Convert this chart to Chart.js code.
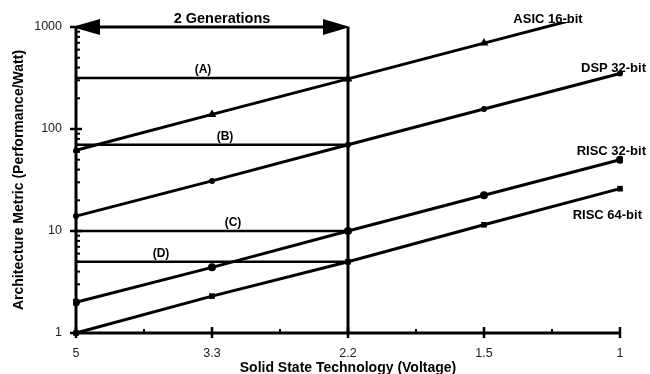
<!DOCTYPE html>
<html>
<head>
<meta charset="utf-8">
<script src="https://cdn.jsdelivr.net/npm/chart.js@4/dist/chart.umd.min.js"></script>
<style>
  html, body { margin: 0; padding: 0; background: #fff; }
  #wrap { width: 650px; height: 374px; position: relative; }
</style>
</head>
<body>
<div id="wrap"><canvas id="c"></canvas></div>
<script>
// Supply voltage generations (x categories)
const voltages = ['5', '3.3', '2.2', '1.5', '1'];

// Performance per watt for each architecture
const asic16 = [62, 139, 310, 695, 1550];
const dsp32  = [14, 31, 70, 157, 350];
const risc32 = [2, 4.4, 10, 22.4, 50];
const risc64 = [1, 2.3, 5, 11.5, 26];

// Reference levels read across to the 2.2 V generation
const levelA = 316;
const levelB = 70;
const levelC = 10;
const levelD = 5;

// Span of the "2 Generations" arrow and its marker line
const genStart = '5';
const genEnd = '2.2';
const yMin = 1;
const yMax = 1000;
const yTicks = [1, 10, 100, 1000];

const FONT = "'Liberation Sans', Arial, Helvetica, sans-serif";

function levelRow(v) {
  return voltages.map(lbl => (voltages.indexOf(lbl) <= voltages.indexOf(genEnd) ? v : null));
}

const seriesStyle = {
  borderColor: '#000',
  backgroundColor: '#000',
  borderWidth: 3,
  pointBorderWidth: 0,
  tension: 0,
  clip: { left: 3, top: 5, right: 3, bottom: 3 }
};

const refStyle = {
  borderColor: '#000',
  borderWidth: 2.5,
  pointRadius: 0,
  tension: 0,
  clip: false
};

// Axis lines, tick marks, arrow and text annotations
const decor = {
  id: 'decor',
  afterDatasetsDraw(chart) {
    const { ctx, chartArea: a, scales: { x, y } } = chart;
    ctx.save();
    ctx.strokeStyle = '#000';
    ctx.fillStyle = '#000';
    ctx.lineCap = 'butt';

    // axes
    ctx.lineWidth = 3;
    ctx.beginPath();
    ctx.moveTo(a.left, y.getPixelForValue(yMax) - 1);
    ctx.lineTo(a.left, a.bottom);
    ctx.lineTo(a.right + 1, a.bottom);
    ctx.stroke();

    // y ticks: majors cross the axis, minors point inward
    ctx.lineWidth = 2.5;
    yTicks.forEach(v => {
      const py = y.getPixelForValue(v);
      ctx.beginPath();
      ctx.moveTo(a.left - 6, py);
      ctx.lineTo(a.left + (v === yMin ? 0 : 6), py);
      ctx.stroke();
    });
    ctx.lineWidth = 2;
    for (let d = 1; d < yMax; d *= 10) {
      for (let k = 2; k <= 9; k++) {
        const py = y.getPixelForValue(d * k);
        ctx.beginPath();
        ctx.moveTo(a.left, py);
        ctx.lineTo(a.left + 4, py);
        ctx.stroke();
      }
    }

    // x ticks: majors cross the axis, minors between categories
    ctx.lineWidth = 2.5;
    voltages.forEach((_, i) => {
      const px = x.getPixelForValue(i);
      ctx.beginPath();
      ctx.moveTo(px, a.bottom - 6);
      ctx.lineTo(px, a.bottom + 5);
      ctx.stroke();
      if (i < voltages.length - 1) {
        const mx = (px + x.getPixelForValue(i + 1)) / 2;
        ctx.lineWidth = 2;
        ctx.beginPath();
        ctx.moveTo(mx, a.bottom - 4);
        ctx.lineTo(mx, a.bottom);
        ctx.stroke();
        ctx.lineWidth = 2.5;
      }
    });

    // double-headed "2 Generations" arrow
    const x0 = x.getPixelForValue(voltages.indexOf(genStart));
    const x1 = x.getPixelForValue(voltages.indexOf(genEnd));
    const ya = y.getPixelForValue(yMax);
    ctx.lineWidth = 3;
    ctx.beginPath();
    ctx.moveTo(x0 + 20, ya);
    ctx.lineTo(x1 - 20, ya);
    ctx.stroke();
    ctx.beginPath();
    ctx.moveTo(x0 - 4, ya);
    ctx.lineTo(x0 + 24, ya - 8);
    ctx.lineTo(x0 + 24, ya + 8);
    ctx.closePath();
    ctx.fill();
    ctx.beginPath();
    ctx.moveTo(x1 + 2, ya);
    ctx.lineTo(x1 - 25, ya - 8);
    ctx.lineTo(x1 - 25, ya + 8);
    ctx.closePath();
    ctx.fill();

    ctx.textBaseline = 'alphabetic';
    ctx.textAlign = 'center';
    ctx.font = `bold 14.5px ${FONT}`;
    ctx.fillText('2 Generations', (x0 + x1) / 2 + 10, ya - 4);

    // series names
    ctx.font = `bold 13px ${FONT}`;
    ctx.fillText('ASIC 16-bit', a.right - 72, ya - 4);
    ctx.textAlign = 'right';
    ctx.fillText('DSP 32-bit', a.right + 26, y.getPixelForValue(dsp32[4]) - 2);
    ctx.fillText('RISC 32-bit', a.right + 26, y.getPixelForValue(risc32[4]) - 5);
    ctx.fillText('RISC 64-bit', a.right + 22, y.getPixelForValue(risc64[4]) + 30);

    // level tags
    ctx.textAlign = 'center';
    ctx.font = `bold 12px ${FONT}`;
    const tags = [['(A)', levelA, 127], ['(B)', levelB, 149], ['(C)', levelC, 157], ['(D)', levelD, 85]];
    tags.forEach(([t, v, dx]) => {
      ctx.fillText(t, a.left + dx, y.getPixelForValue(v) - 5);
    });

    // axis titles
    ctx.font = `bold 14px ${FONT}`;
    ctx.textAlign = 'center';
    ctx.textBaseline = 'middle';
    ctx.fillText('Solid State Technology (Voltage)', (a.left + a.right) / 2, chart.height - 6);
    ctx.save();
    ctx.translate(19, (a.top + a.bottom) / 2);
    ctx.rotate(-Math.PI / 2);
    ctx.fillText('Architecture Metric (Performance/Watt)', 0, 0);
    ctx.restore();

    ctx.restore();
  }
};

new Chart(document.getElementById('c'), {
  type: 'line',
  data: {
    labels: voltages,
    datasets: [
      { label: 'ASIC 16-bit', data: asic16, ...seriesStyle, pointStyle: 'triangle', pointRadius: 5 },
      { label: 'DSP 32-bit', data: dsp32, ...seriesStyle, pointStyle: 'circle', pointRadius: 3 },
      { label: 'RISC 32-bit', data: risc32, ...seriesStyle, pointStyle: 'circle', pointRadius: 4 },
      { label: 'RISC 64-bit', data: risc64, ...seriesStyle, pointStyle: 'rect', pointRadius: 4 },
      { label: '(A)', data: levelRow(levelA), ...refStyle },
      { label: '(B)', data: levelRow(levelB), ...refStyle },
      { label: '(C)', data: levelRow(levelC), ...refStyle },
      { label: '(D)', data: levelRow(levelD), ...refStyle },
      { label: '2.2 V', data: [{ x: genEnd, y: yMin }, { x: genEnd, y: yMax }], ...refStyle, borderWidth: 3 }
    ]
  },
  options: {
    responsive: true,
    maintainAspectRatio: false,
    animation: false,
    events: [],
    layout: { padding: { left: 0, right: 30, top: 27, bottom: 0 } },
    plugins: { legend: { display: false }, tooltip: { enabled: false } },
    scales: {
      x: {
        type: 'category',
        offset: false,
        grid: { display: false, drawTicks: false },
        border: { display: false },
        ticks: { color: '#222', padding: 13, font: { family: FONT, size: 12.5 }, maxRotation: 0, autoSkip: false },
        afterFit(s) { s.height = 41; }
      },
      y: {
        type: 'logarithmic',
        min: yMin,
        max: yMax,
        grid: { display: false, drawTicks: false },
        border: { display: false },
        afterBuildTicks(s) { s.ticks = yTicks.map(v => ({ value: v })); },
        ticks: { color: '#222', padding: 14, font: { family: FONT, size: 12.5 }, autoSkip: false,
                 callback: v => String(v) },
        afterFit(s) { s.width = 76; }
      }
    }
  },
  plugins: [decor]
});
</script>
</body>
</html>
